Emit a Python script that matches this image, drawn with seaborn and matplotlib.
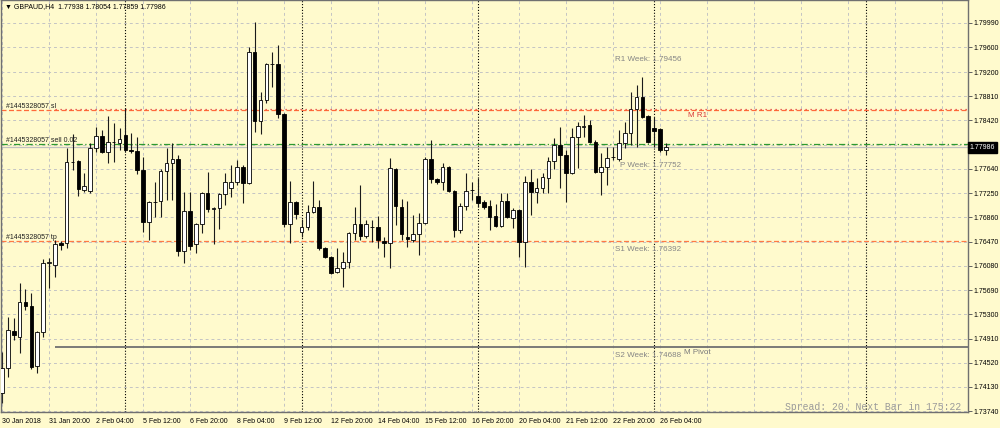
import matplotlib
matplotlib.use("Agg")
import matplotlib.pyplot as plt
import numpy as np
import pandas as pd
import seaborn as sns

# Bougies H4 GBPAUD
opens = [1.74033, 1.74435, 1.75031, 1.74934, 1.75498, 1.75434, 1.74467, 1.75015, 1.76126, 1.76094,
         1.76448, 1.76448, 1.77752, 1.77768, 1.77301, 1.77285, 1.77977, 1.78170, 1.77913, 1.78074,
         1.78058, 1.78187, 1.77945, 1.77929, 1.77623, 1.76786, 1.77108, 1.77124, 1.77607, 1.77736,
         1.77801, 1.76319, 1.76963, 1.76432, 1.76754, 1.77253, 1.76995, 1.77012, 1.77237, 1.77333,
         1.77430, 1.77672, 1.77414, 1.79523, 1.78412, 1.78750, 1.79330, 1.79330, 1.78525, 1.76754,
         1.77108, 1.76625, 1.76705, 1.76947, 1.77027, 1.76367, 1.76222, 1.75981, 1.76045, 1.76142,
         1.76609, 1.76754, 1.76560, 1.76705, 1.76705, 1.76480, 1.76448, 1.77639, 1.77027, 1.76544,
         1.76496, 1.76593, 1.76770, 1.77801, 1.77478, 1.77430, 1.77672, 1.77285, 1.76657, 1.77044,
         1.77301, 1.77204, 1.77108, 1.77044, 1.76882, 1.76721, 1.77124, 1.76850, 1.76979, 1.76464,
         1.77430, 1.77269, 1.77333, 1.77494, 1.77768, 1.78026, 1.77865, 1.77575, 1.78154, 1.78315,
         1.78348, 1.78074, 1.77591, 1.77672, 1.77832, 1.77801, 1.78058, 1.78219, 1.78605, 1.78798,
         1.78492, 1.78299, 1.78283, 1.77938]
highs = [1.74693, 1.75256, 1.75240, 1.75804, 1.75707, 1.75643, 1.75031, 1.76190, 1.76206, 1.76496,
         1.76480, 1.77977, 1.78203, 1.77784, 1.77575, 1.78058, 1.78315, 1.78267, 1.78492, 1.78380,
         1.78299, 1.78621, 1.78219, 1.78154, 1.77832, 1.77124, 1.77430, 1.77639, 1.77977, 1.78058,
         1.77865, 1.77269, 1.77269, 1.76770, 1.77269, 1.77591, 1.77027, 1.77253, 1.77575, 1.77704,
         1.77784, 1.77704, 1.79603, 1.80006, 1.78879, 1.79346, 1.79523, 1.79636, 1.78541, 1.77446,
         1.77124, 1.76834, 1.77060, 1.77446, 1.77140, 1.76383, 1.76238, 1.76367, 1.76303, 1.76625,
         1.77027, 1.77382, 1.76818, 1.76818, 1.76882, 1.76544, 1.77816, 1.77655, 1.77156, 1.77124,
         1.76899, 1.76931, 1.77832, 1.78106, 1.77494, 1.77736, 1.77688, 1.77301, 1.77092, 1.77575,
         1.77430, 1.77494, 1.77140, 1.77140, 1.77076, 1.77253, 1.77253, 1.77012, 1.76995, 1.77527,
         1.77639, 1.77494, 1.77575, 1.77832, 1.78138, 1.78315, 1.77945, 1.78299, 1.78396, 1.78509,
         1.78428, 1.78106, 1.77897, 1.77993, 1.77993, 1.78267, 1.78396, 1.78879, 1.78992, 1.79120,
         1.78509, 1.78476, 1.78299, 1.78054]
lows = [1.73872, 1.74290, 1.74886, 1.74677, 1.75369, 1.74419, 1.74355, 1.74934, 1.75723, 1.75900,
        1.76335, 1.76367, 1.77623, 1.77204, 1.77269, 1.77253, 1.77913, 1.77897, 1.77736, 1.77752,
        1.77945, 1.77913, 1.77897, 1.77559, 1.76625, 1.76496, 1.76866, 1.76866, 1.77140, 1.77140,
        1.76238, 1.76126, 1.76335, 1.76287, 1.76609, 1.76947, 1.76432, 1.76673, 1.77060, 1.77188,
        1.77382, 1.77092, 1.77398, 1.78235, 1.78203, 1.78702, 1.78959, 1.78460, 1.76705, 1.76448,
        1.76834, 1.76544, 1.76657, 1.76931, 1.76335, 1.76206, 1.75949, 1.75965, 1.75739, 1.76045,
        1.76496, 1.76496, 1.76528, 1.76464, 1.76367, 1.76222, 1.76045, 1.76738, 1.76496, 1.76383,
        1.76464, 1.76254, 1.76754, 1.77414, 1.77398, 1.77301, 1.77269, 1.76544, 1.76609, 1.76979,
        1.77140, 1.77027, 1.76995, 1.76657, 1.76705, 1.76705, 1.76850, 1.76689, 1.76222, 1.76061,
        1.76899, 1.77092, 1.77253, 1.77253, 1.77639, 1.77333, 1.77108, 1.77559, 1.77655, 1.78154,
        1.78058, 1.77575, 1.77221, 1.77382, 1.77784, 1.77768, 1.77977, 1.78026, 1.77993, 1.78460,
        1.78058, 1.77993, 1.77913, 1.77859]
closes = [1.74435, 1.75047, 1.74967, 1.75498, 1.75434, 1.74451, 1.75015, 1.76126, 1.76142, 1.76432,
          1.76416, 1.77752, 1.77750, 1.77317, 1.77365, 1.77977, 1.78170, 1.77913, 1.78074, 1.78072,
          1.78122, 1.77945, 1.77929, 1.77623, 1.76786, 1.77108, 1.77105, 1.77607, 1.77736, 1.77801,
          1.76319, 1.76963, 1.76400, 1.76754, 1.77253, 1.76995, 1.77012, 1.77237, 1.77430, 1.77430,
          1.77672, 1.77414, 1.79523, 1.78412, 1.78750, 1.79330, 1.79327, 1.78525, 1.76754, 1.77108,
          1.76915, 1.76705, 1.76947, 1.77027, 1.76367, 1.76222, 1.75965, 1.76045, 1.76142, 1.76609,
          1.76754, 1.76560, 1.76754, 1.76702, 1.76496, 1.76448, 1.77655, 1.77044, 1.76593, 1.76512,
          1.76593, 1.76770, 1.77801, 1.77478, 1.77430, 1.77672, 1.77285, 1.76657, 1.77044, 1.77285,
          1.77298, 1.77092, 1.77027, 1.76866, 1.76721, 1.77124, 1.76866, 1.76979, 1.76464, 1.77430,
          1.77269, 1.77333, 1.77510, 1.77768, 1.78026, 1.77865, 1.77575, 1.78154, 1.78331, 1.78331,
          1.78074, 1.77591, 1.77672, 1.77816, 1.77829, 1.78058, 1.78219, 1.78605, 1.78798, 1.78476,
          1.78074, 1.78251, 1.77945, 1.77986]

date_labels = ["30 Jan 2018", "31 Jan 20:00", "2 Feb 04:00", "5 Feb 12:00", "6 Feb 20:00",
               "8 Feb 04:00", "9 Feb 12:00", "12 Feb 20:00", "14 Feb 04:00", "15 Feb 12:00",
               "16 Feb 20:00", "20 Feb 04:00", "21 Feb 12:00", "22 Feb 20:00", "26 Feb 04:00"]
price_ticks = [1.73740, 1.74130, 1.74520, 1.74910, 1.75300, 1.75690, 1.76080, 1.76470, 1.76860,
               1.77250, 1.77640, 1.78030, 1.78420, 1.78810, 1.79200, 1.79600, 1.79990]
week_separators = [21, 51, 81, 111, 147]

# niveaux
sl_price = 1.78590
sell_price = 1.78040
tp_price = 1.76480
bid_price = 1.77986
m_r1 = 1.78600
m_pivot = 1.74770
week_names = ["R1 Week", "P Week", "S1 Week", "S2 Week"]
week_values = [1.79456, 1.77752, 1.76392, 1.74688]

df = pd.DataFrame({"open": opens, "high": highs, "low": lows, "close": closes})
df["idx"] = np.arange(len(df))
bull = df["close"] >= df["open"]

sns.set_theme(style="white")
plt.rcParams["font.family"] = ["Liberation Sans", "DejaVu Sans"]

bg = "#fffacd"
fig = plt.figure(figsize=(10, 4.28), dpi=100, facecolor=bg)
ax = fig.add_axes([0.001, 0.0374, 0.967, 0.9615], facecolor=bg)

# grille
xticks = np.arange(0, 165, 8)
ax.set_xticks(xticks)
ax.set_xticklabels(date_labels + [""] * (len(xticks) - len(date_labels)), ha="left", fontsize=5)
ax.yaxis.tick_right()
ax.set_yticks(price_ticks)
# 1.78030 est caché sous l'étiquette du prix courant
ax.set_yticklabels(["" if abs(p - bid_price) < 0.001 else f"{p:.5f}" for p in price_ticks],
                   fontsize=5)
ax.grid(True, color="#c4c4c4", linestyle=(0, (3, 3)), linewidth=0.7)
ax.set_axisbelow(True)
ax.tick_params(axis="both", length=3, width=0.7, color="#606060", pad=1.2, labelcolor="#000000")
ax.tick_params(axis="x", pad=1.2)
for s in ax.spines.values():
    s.set_color("#707070")
    s.set_linewidth(1.0)

for xs in week_separators:
    ax.axvline(xs, color="#000000", linestyle=(0, (1, 1.6)), linewidth=0.8, zorder=1)

# lignes des ordres et pivots
ax.axhline(bid_price, color="#c0c0c0", linewidth=0.9, zorder=1)
ax.axhline(sl_price, color="#ff6a3a", linestyle=(0, (4, 2)), linewidth=0.9, zorder=1)
ax.hlines(m_r1, 9, 164.5, color="#e03c3c", linestyle=(0, (1, 3)), linewidth=0.9, zorder=1)
ax.axhline(sell_price, color="#2e9a2e", linestyle=(0, (5, 2, 1, 2)), linewidth=0.9, zorder=1)
ax.axhline(tp_price, color="#ff7a45", linestyle=(0, (4, 2)), linewidth=0.9, zorder=1)
ax.hlines(m_pivot, 9, 164.5, color="#707070", linewidth=1.3, zorder=1)

# bougies
ax.vlines(df["idx"], df["low"], df["high"], color="#1a1a1a", linewidth=0.8, zorder=2)
ax.bar(df["idx"], df["close"] - df["open"], bottom=df["open"], width=0.62,
       color=np.where(bull, "white", "black"), edgecolor="black", linewidth=0.6, zorder=3)

ax.set_xlim(-0.17, 164.42)
ax.set_ylim(1.73727, 1.80352)

# textes
for lbl, y in [("#1445328057 sl", sl_price), ("#1445328057 sell 0.02", sell_price),
               ("#1445328057 tp", tp_price)]:
    ax.text(0.7, y, lbl, fontsize=5, color="#202020", va="bottom", ha="left")
for name, v in zip(week_names, week_values):
    ax.text(115.6, v, f"{name}: {v:.5f}", fontsize=5.8, color="#858585", va="top", ha="right")
ax.text(116.8, m_r1, "M R1", fontsize=5.8, color="#d83a3a", va="top", ha="left",
        transform=ax.transData + matplotlib.transforms.ScaledTranslation(0, -3 / 100, fig.dpi_scale_trans))
ax.text(116.1, m_pivot, "M Pivot", fontsize=5.8, color="#7a7a7a", va="top", ha="left",
        transform=ax.transData + matplotlib.transforms.ScaledTranslation(0, -2 / 100, fig.dpi_scale_trans))

ax.text(1.002, bid_price, f"{bid_price:.5f}", transform=ax.get_yaxis_transform(),
        fontsize=5, color="white", va="center", ha="left",
        bbox=dict(facecolor="black", edgecolor="black", pad=1.2), zorder=5)

fig.text(0.005, 1 - 7 / 428, "\u25bc GBPAUD,H4  1.77938 1.78054 1.77859 1.77986",
         fontsize=5, color="#000000", va="center", ha="left")
fig.text(0.785, 1 - 407 / 428, "Spread: 20. Next Bar in 175:22", fontsize=7,
         family="Liberation Mono", color="#9a9a9a", va="center", ha="left")

fig.savefig("out.png", dpi=100, facecolor=bg)
